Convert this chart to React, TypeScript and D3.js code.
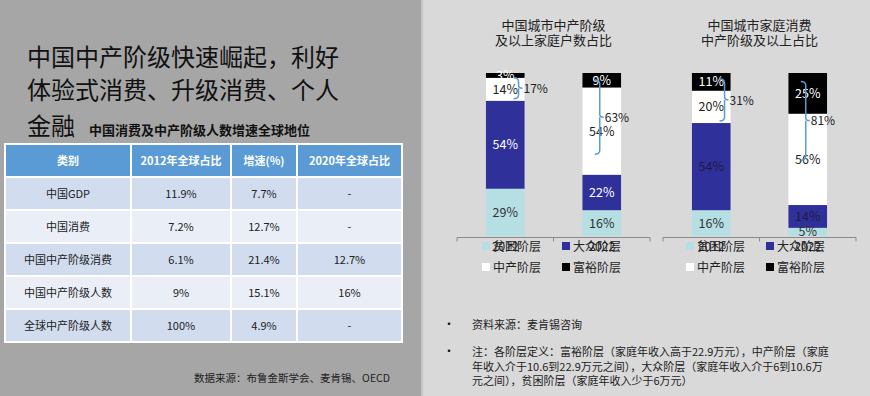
import React from 'react';
import * as d3 from 'd3';

// 各阶层（自下而上）
const classes = ['贫困阶层', '大众阶层', '中产阶层', '富裕阶层'];
const years = ['2012', '2022'];

// 中国城市中产阶级及以上家庭户数占比
const householdShare = [
  [29, 54, 14, 3],
  [16, 22, 54, 9],
];
const householdUpper = ['17%', '63%'];

// 中国城市家庭消费中产阶级及以上占比
const consumptionShare = [
  [16, 54, 20, 11],
  [5, 14, 56, 25],
];
const consumptionUpper = ['31%', '81%'];

const tableHead = ['类别', '2012年全球占比', '增速(%)', '2020年全球占比'];
const tableCategories = ['中国GDP', '中国消费', '中国中产阶级消费', '中国中产阶级人数', '全球中产阶级人数'];
const share2012 = ['11.9%', '7.2%', '6.1%', '9%', '100%'];
const growth = ['7.7%', '12.7%', '21.4%', '15.1%', '4.9%'];
const share2020 = ['-', '-', '12.7%', '16%', '-'];

const titleLines = ['中国中产阶级快速崛起，利好', '体验式消费、升级消费、个人', '金融'];
const noteLines = [
  '注：各阶层定义：富裕阶层（家庭年收入高于22.9万元），中产阶层（家庭',
  '年收入介于10.6到22.9万元之间），大众阶层（家庭年收入介于6到10.6万',
  '元之间），贫困阶层（家庭年收入少于6万元）',
];

const FONT = '"Noto Sans CJK SC", "Microsoft YaHei", sans-serif';
const classColors = ['#b5dfe2', '#30309a', '#ffffff', '#000000'];
const bracketColor = '#5b9bd5';

type ChartProps = {
  title: string[];
  values: number[][];
  upper: string[];
  x0: number;
  x1: number;
  legendX: number[];
  blueText: string;
  spanRatio: number;
};

function StackChart({ title, values, upper, x0, x1, legendX, blueText, spanRatio }: ChartProps) {
  const rows = years.map((yr, i) => {
    const r: any = { year: yr };
    classes.forEach((c, j) => (r[c] = values[i][j]));
    return r;
  });
  const series = d3.stack<any>().keys(classes).offset(d3.stackOffsetExpand)(rows);
  const x = d3.scaleBand<string>().domain(years).range([x0, x1]).paddingInner(0.6).paddingOuter(0.3);
  const y = d3.scaleLinear().domain([0, 1]).range([236, 73]);
  const bw = x.bandwidth();
  const axisY = 237.5;
  const tickXs = [x0, x0 + (x1 - x0) / 2, x1];
  const cx = (x0 + x1) / 2;
  const textColors = ['#333', blueText, '#222', '#fff'];

  return (
    <g>
      {title.map((t, i) => (
        <text key={t} x={cx} y={30 + i * 15} textAnchor="middle" fontSize={13} fill="#222">{t}</text>
      ))}
      {series.map((s, si) =>
        s.map((d, bi) => (
          <rect key={`${si}-${bi}`} x={x(years[bi])} y={y(d[1])} width={bw}
            height={y(d[0]) - y(d[1])} fill={classColors[si]} />
        ))
      )}
      {series.map((s, si) =>
        s.map((d, bi) => (
          <text key={`t${si}-${bi}`} x={(x(years[bi]) as number) + bw / 2}
            y={(y(d[0]) + y(d[1])) / 2 + 4.5} textAnchor="middle" fontSize={12.5}
            fill={textColors[si]}>{values[bi][si]}%</text>
        ))
      )}
      {years.map((yr, bi) => {
        const top = y(series[3][bi][1]);
        const bottom = y(series[2][bi][0]);
        const bx0 = x(yr) as number;
        let bx: number, y1: number, y2: number;
        if (bi === 0) {
          bx = bx0 + bw - 6;
          y1 = top + 3 + (bottom - top) * 0.06;
          y2 = bottom - 2;
        } else {
          bx = bx0 + bw / 2 - 2;
          y1 = top + 2 + (bottom - top) * 0.05;
          y2 = top + (bottom - top) * spanRatio;
        }
        const ym = (y1 + y2) / 2;
        const d = `M${bx - 5},${y1} Q${bx},${y1} ${bx},${y1 + 4} L${bx},${ym - 3} Q${bx},${ym} ${bx + 4},${ym} `
          + `M${bx},${ym} Q${bx},${ym} ${bx},${ym + 3} L${bx},${y2 - 4} Q${bx},${y2} ${bx - 5},${y2}`;
        return (
          <g key={`b${yr}`}>
            <path d={d} fill="none" stroke={bracketColor} strokeWidth={1.5} />
            <text x={bx + 5} y={ym + 4.5} fontSize={12} fill="#222">{upper[bi]}</text>
          </g>
        );
      })}
      <line x1={x0} x2={x1} y1={axisY} y2={axisY} stroke="#8a8a8a" />
      {tickXs.map((t) => (
        <line key={t} x1={t} x2={t} y1={axisY} y2={axisY + 4} stroke="#8a8a8a" />
      ))}
      {years.map((yr) => (
        <text key={yr} x={(x(yr) as number) + bw / 2} y={251} textAnchor="middle" fontSize={12} fill="#222">{yr}</text>
      ))}
      {classes.map((c, i) => {
        const lx = legendX[i % 2];
        const ly = 246 + Math.floor(i / 2) * 21;
        return (
          <g key={c}>
            <rect x={lx - 4} y={ly - 4} width={8} height={8} fill={classColors[i]} />
            <text x={lx + 7} y={ly + 4.5} fontSize={12} fill="#222">{c}</text>
          </g>
        );
      })}
    </g>
  );
}

function DataTable() {
  const colEdges = [5, 131, 231, 297, 402];
  const rowY = d3.scaleBand<number>().domain(d3.range(tableCategories.length + 1)).range([144, 342]);
  const cols = [tableCategories, share2012, growth, share2020];
  return (
    <g>
      <rect x={colEdges[0] - 1} y={143} width={colEdges[4] - colEdges[0] + 2} height={200} fill="#ffffff" />
      {d3.range(tableCategories.length + 1).map((ri) =>
        d3.range(4).map((ci) => {
          const fill = ri === 0 ? '#5b9bd5' : ri % 2 === 1 ? '#d1dcef' : '#e9eef7';
          const label = ri === 0 ? tableHead[ci] : cols[ci][ri - 1];
          const x0 = colEdges[ci] + 1;
          const w = colEdges[ci + 1] - colEdges[ci] - 2;
          const y0 = (rowY(ri) as number) + 1;
          const h = rowY.bandwidth() - 2;
          return (
            <g key={`${ri}-${ci}`}>
              <rect x={x0} y={y0} width={w} height={h} fill={fill} />
              <text x={x0 + w / 2} y={y0 + h / 2 + 4} textAnchor="middle" fontSize={11}
                fontWeight={ri === 0 ? 'bold' : 'normal'} fill={ri === 0 ? '#fff' : '#222'}>{label}</text>
            </g>
          );
        })
      )}
    </g>
  );
}

export default function App() {
  return (
    <div style={{ position: 'fixed', left: 0, top: 0, width: 870, height: 396 }}>
      <svg width={870} height={396} style={{ display: 'block', fontFamily: FONT }}>
        <rect x={0} y={0} width={421} height={396} fill="#a6a6a6" />
        <rect x={421} y={0} width={2} height={396} fill="#c4c4c4" />
        <rect x={423} y={0} width={447} height={396} fill="#d9d9d9" />

        {titleLines.map((t, i) => (
          <text key={t} x={27} y={[66, 99, 135][i]} fontSize={24} fill="#111">{t}</text>
        ))}
        <text x={89} y={135} fontSize={13} fontWeight="bold" fill="#111">中国消费及中产阶级人数增速全球地位</text>

        <DataTable />

        <text x={390} y={382} textAnchor="end" fontSize={10.5} fill="#222">数据来源：布鲁金斯学会、麦肯锡、OECD</text>

        <StackChart title={['中国城市中产阶级', '及以上家庭户数占比']} values={householdShare}
          upper={householdUpper} x0={457} x1={650} legendX={[486, 566]} blueText="#ffffff" spanRatio={0.8} />
        <StackChart title={['中国城市家庭消费', '中产阶级及以上占比']} values={consumptionShare}
          upper={consumptionUpper} x0={663} x1={856} legendX={[690, 770]} blueText="#1c1c40" spanRatio={0.66} />

        <text x={443} y={329} fontSize={12} fill="#111">•</text>
        <text x={472} y={329} fontSize={11} fill="#222">资料来源：麦肯锡咨询</text>
        <text x={443} y={356} fontSize={12} fill="#111">•</text>
        {noteLines.map((t, i) => (
          <text key={i} x={472} y={356 + i * 14.5} fontSize={11} fill="#222">{t}</text>
        ))}
      </svg>
    </div>
  );
}
